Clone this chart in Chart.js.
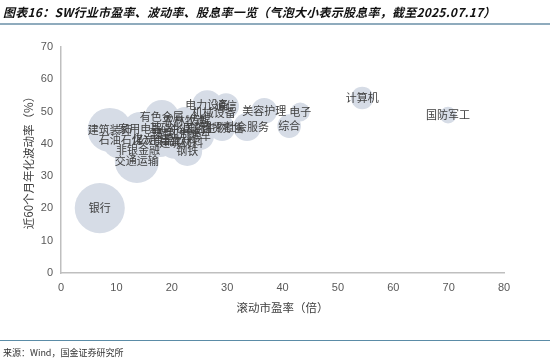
<!DOCTYPE html>
<html>
<head>
<meta charset="utf-8">
<script src="https://cdn.jsdelivr.net/npm/chart.js@4.4.1/dist/chart.umd.min.js"></script>
<style>
  html, body { margin: 0; padding: 0; background: #fff; }
  .wrap { position: relative; width: 550px; height: 364px; overflow: hidden; }
  #chart { position: absolute; left: 0; top: 0; }
  .title {
    position: absolute; left: 3px; top: 3px;
    font: italic bold 12px "Noto Sans CJK SC", sans-serif; color: #111;
    letter-spacing: 0.25px; white-space: nowrap;
  }
  .title-line { position: absolute; left: 0; top: 23px; width: 550px; height: 2px; background: #8fabbd; }
  .foot-line { position: absolute; left: 0; top: 340px; width: 550px; height: 1px; background: #5b8ca7; }
  .foot {
    position: absolute; left: 3px; top: 346px;
    font: 9px "Noto Sans CJK SC", sans-serif; color: #333; white-space: nowrap;
  }
</style>
</head>
<body>
<div class="wrap">
  <canvas id="chart" width="550" height="364"></canvas>
  <div class="title">图表16：SW行业市盈率、波动率、股息率一览（气泡大小表示股息率，截至2025.07.17）</div>
  <div class="title-line"></div>
  <div class="foot-line"></div>
  <div class="foot">来源：Wind，国金证券研究所</div>
</div>
<script>
// 行业名称
const industries = [
  '银行', '计算机', '国防军工', '电子', '综合', '美容护理', '社会服务', '通信',
  '电力设备', '有色金属', '建筑装饰', '家用电器', '石油石化', '煤炭', '非银金融',
  '交通运输', '钢铁', '机械设备', '传媒', '农林牧渔', '基础化工', '医药生物',
  '商贸零售', '纺织服饰', '轻工制造', '汽车', '环保', '公用事业', '食品饮料', '建筑材料'
];
// 滚动市盈率（倍）
const pe = [
  7.0, 54.4, 69.9, 43.2, 41.2, 36.7, 33.6, 29.8,
  26.4, 18.2, 8.8, 14.3, 10.8, 14.8, 13.9,
  13.7, 22.8, 27.6, 25.1, 22.4, 20.0, 26.0,
  29.1, 23.3, 21.5, 25.1, 18.4, 17.9, 20.6, 21.7
];
// 近60个月年化波动率（%）
const vol = [
  20.1, 54.2, 48.9, 49.9, 45.5, 50.2, 45.2, 51.7,
  52.0, 48.3, 44.3, 44.6, 41.2, 41.2, 38.1,
  34.7, 37.8, 49.6, 47.4, 47.1, 44.9, 44.9,
  44.9, 44.3, 43.1, 42.4, 43.1, 41.2, 40.9, 40.3
];
// 股息率（%）
const dividend = [
  4.5, 0.9, 0.5, 0.65, 1.0, 1.2, 1.4, 1.2,
  1.6, 2.1, 3.5, 2.1, 2.6, 2.9, 1.8,
  3.5, 1.6, 1.0, 1.0, 1.4, 1.4, 1.2,
  1.2, 1.8, 1.4, 1.4, 1.2, 2.1, 2.3, 1.6
];
const xTicks = [0, 10, 20, 30, 40, 50, 60, 70, 80];
const yTicks = [0, 10, 20, 30, 40, 50, 60, 70];

const points = pe.map((x, i) => ({ x: x, y: vol[i], r: 11.8 * Math.sqrt(dividend[i]) }));

// 在气泡中心写行业名称
const bubbleLabels = {
  id: 'bubbleLabels',
  afterDatasetsDraw(chart) {
    const ctx = chart.ctx;
    const meta = chart.getDatasetMeta(0);
    ctx.save();
    ctx.font = '11px "Noto Sans CJK SC", sans-serif';
    ctx.fillStyle = '#404040';
    ctx.textAlign = 'center';
    ctx.textBaseline = 'middle';
    meta.data.forEach((el, i) => {
      ctx.fillText(industries[i], el.x, el.y);
    });
    ctx.restore();
  }
};

const tickFont = { family: '"Liberation Sans", Arial, sans-serif', size: 11 };
const titleFont = { family: '"Noto Sans CJK SC", sans-serif', size: 11.5 };

new Chart(document.getElementById('chart'), {
  type: 'bubble',
  data: {
    datasets: [{
      data: points,
      backgroundColor: 'rgb(214, 220, 230)',
      borderWidth: 0,
      hoverBorderWidth: 0
    }]
  },
  options: {
    responsive: false,
    animation: false,
    devicePixelRatio: 1,
    events: [],
    layout: { padding: { left: 0, right: 46, top: 47, bottom: 40 } },
    plugins: { legend: { display: false }, tooltip: { enabled: false } },
    scales: {
      x: {
        type: 'linear', min: 0, max: 80,
        afterBuildTicks: (s) => { s.ticks = xTicks.map(v => ({ value: v })); },
        afterFit: (s) => { s.height = 51; },
        grid: { display: false, drawTicks: false },
        border: { display: true, color: '#bfbfbf', width: 1.5 },
        ticks: { color: '#595959', font: tickFont, padding: 8, maxRotation: 0 },
        title: { display: true, text: '滚动市盈率（倍）', color: '#404040', font: titleFont, padding: { top: 0, bottom: 9 } }
      },
      y: {
        type: 'linear', min: 0, max: 70,
        afterBuildTicks: (s) => { s.ticks = yTicks.map(v => ({ value: v })); },
        afterFit: (s) => { s.width = 61; },
        grid: { display: false, drawTicks: false },
        border: { display: true, color: '#bfbfbf', width: 1.5 },
        ticks: { color: '#595959', font: tickFont, padding: 8 },
        title: { display: true, text: '近60个月年化波动率（%）', color: '#404040', font: titleFont, padding: { top: 22, bottom: 0 } }
      }
    }
  },
  plugins: [bubbleLabels]
});
</script>
</body>
</html>
